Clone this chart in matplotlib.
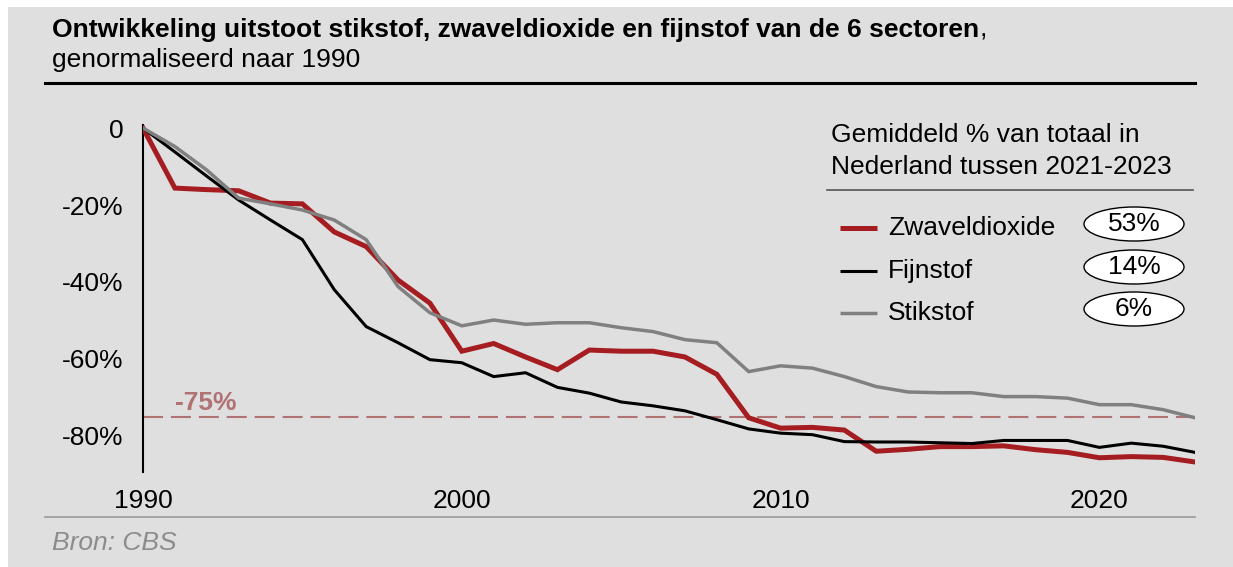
import matplotlib
matplotlib.use("Agg")
import matplotlib.pyplot as plt
from matplotlib.lines import Line2D
from matplotlib.patches import Ellipse, Rectangle

plt.rcParams['font.family'] = ['Liberation Sans', 'DejaVu Sans']

jaren = list(range(1990, 2024))

zwaveldioxide = [0, -15.6, -16.0, -16.3, -19.5, -19.7, -27.0, -30.8, -39.5, -45.5,
                 -58.0, -56.0, -59.5, -62.8, -57.7, -58.0, -58.0, -59.5, -64.0, -75.3,
                 -78.0, -77.8, -78.5, -84.0, -83.5, -82.8, -82.8, -82.6, -83.6, -84.3,
                 -85.7, -85.4, -85.6, -86.8]
fijnstof = [0, -6.2, -12.5, -18.7, -23.9, -29.0, -42.0, -51.6, -55.8, -60.2,
            -61.0, -64.6, -63.6, -67.4, -68.9, -71.2, -72.2, -73.5, -75.8, -78.2,
            -79.3, -79.7, -81.5, -81.6, -81.6, -81.8, -82.0, -81.2, -81.2, -81.2,
            -83.0, -81.9, -82.7, -84.3]
stikstof = [0, -4.8, -10.9, -18.2, -19.7, -21.3, -23.9, -29.0, -41.2, -48.0,
            -51.4, -49.9, -51.0, -50.6, -50.6, -51.9, -52.9, -55.0, -55.8, -63.3,
            -61.8, -62.4, -64.6, -67.2, -68.6, -68.8, -68.8, -69.8, -69.8, -70.2,
            -71.9, -71.9, -73.2, -75.3]

reeksen = ['Zwaveldioxide', 'Fijnstof', 'Stikstof']
aandelen = ['53%', '14%', '6%']
kleuren = ['#A51D21', '#000000', '#808080']
diktes = [3.6, 2.2, 2.5]

y_ticks = [0, -20, -40, -60, -80]
y_labels = ['0', '-20%', '-40%', '-60%', '-80%']
x_ticks = [1990, 2000, 2010, 2020]
doel = -75

W, H = 1233, 567
bg = '#DFDFDF'
fs = 19


def fx(px):
    return px / W


def fy(py):
    return 1 - py / H


fig = plt.figure(figsize=(W / 100, H / 100), dpi=100, facecolor='white')
fig.add_artist(Rectangle((fx(8), 0), 1 - fx(8), fy(7), transform=fig.transFigure,
                         facecolor=bg, edgecolor='none', zorder=-10))

ax = fig.add_axes([fx(143), fy(472), fx(1195) - fx(143), fy(125) - fy(472)])
ax.set_facecolor('none')

ax.axhline(doel, color='#B07272', lw=1.5, dashes=(9.6, 3.8), zorder=1)
ax.text(1991.0, doel + 0.4, '-75%', color='#B07272', fontsize=fs, fontweight='bold',
        ha='left', va='bottom')

series = [zwaveldioxide, fijnstof, stikstof]
for naam, waarden, kleur, lw in zip(reeksen, series, kleuren, diktes):
    ax.plot(jaren, waarden, color=kleur, lw=lw, solid_joinstyle='miter', zorder=3)

ax.set_xlim(1990, 2023)
ax.set_ylim(-89.4, 0.8)
ax.set_yticks(y_ticks)
ax.set_yticklabels(y_labels)
ax.set_xticks(x_ticks)
ax.tick_params(axis='both', length=0, labelsize=fs)
ax.tick_params(axis='y', pad=14)
ax.tick_params(axis='x', pad=12)
for s in ['top', 'right', 'bottom']:
    ax.spines[s].set_visible(False)
ax.spines['left'].set_linewidth(1.5)

# titel
titel = fig.text(fx(52), fy(30), 'Ontwikkeling uitstoot stikstof, zwaveldioxide en fijnstof van de 6 sectoren',
                 fontsize=fs, fontweight='bold', ha='left', va='center')
fig.canvas.draw()
bb = titel.get_window_extent()
fig.text(bb.x1 / W, fy(30), ',', fontsize=fs, ha='left', va='center')
fig.text(fx(52), fy(60), 'genormaliseerd naar 1990', fontsize=fs, ha='left', va='center')
fig.add_artist(Line2D([fx(45), fx(1195)], [fy(83), fy(83)], color='black', lw=2.2,
                      transform=fig.transFigure))

# onderkant
fig.add_artist(Line2D([fx(45), fx(1195)], [fy(517), fy(517)], color='#9A9A9A', lw=1.2,
                      transform=fig.transFigure))
fig.text(fx(52), fy(543), 'Bron: CBS', fontsize=fs, style='italic', color='#8C8C8C',
         ha='left', va='center')

# legenda
fig.text(fx(831), fy(135), 'Gemiddeld % van totaal in', fontsize=fs, ha='left', va='center')
fig.text(fx(831), fy(167), 'Nederland tussen 2021-2023', fontsize=fs, ha='left', va='center')
fig.add_artist(Line2D([fx(827), fx(1193)], [fy(190), fy(190)], color='#555555', lw=1.2,
                      transform=fig.transFigure))
rij_y = [228, 271, 313]
for naam, aandeel, kleur, lw, ry in zip(reeksen, aandelen, kleuren, diktes, rij_y):
    fig.add_artist(Line2D([fx(840), fx(877)], [fy(ry), fy(ry)], color=kleur, lw=lw,
                          solid_capstyle='butt', transform=fig.transFigure))
    fig.text(fx(888), fy(ry), naam, fontsize=fs, ha='left', va='center')
    fig.add_artist(Ellipse((fx(1134), fy(ry - 4)), fx(100), 34 / H, transform=fig.transFigure,
                           facecolor='white', edgecolor='black', lw=1.0))
    fig.text(fx(1134), fy(ry - 4), aandeel, fontsize=fs, ha='center', va='center')

fig.savefig('out.png', dpi=100, facecolor=fig.get_facecolor())
